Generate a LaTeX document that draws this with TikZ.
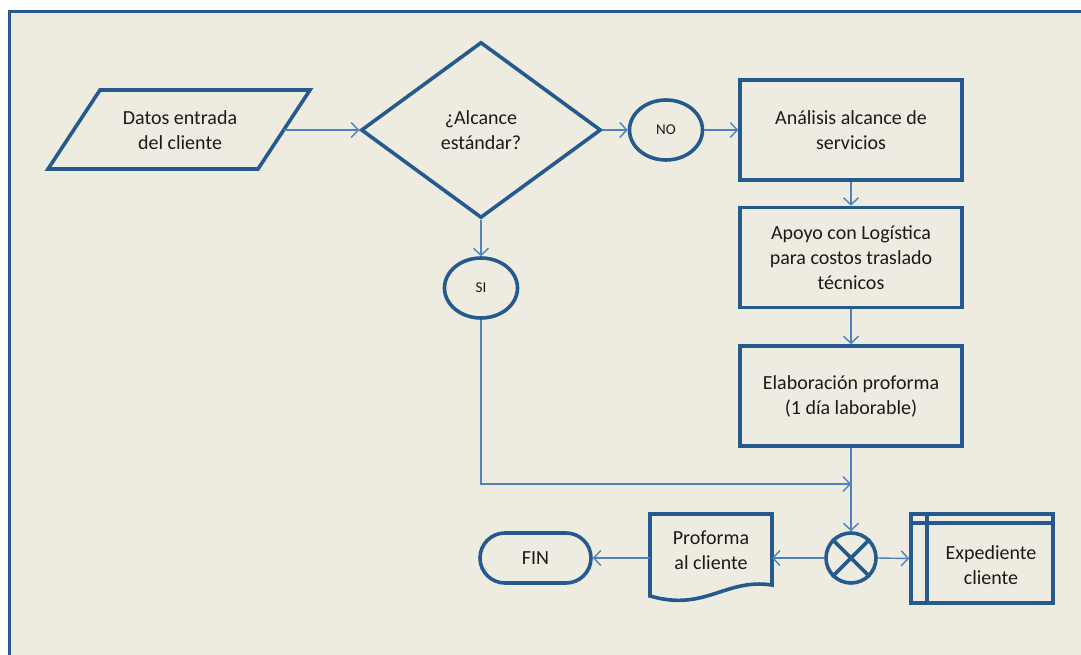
\documentclass[tikz,border=0pt]{standalone}
\usepackage{fontspec}
\setmainfont{Carlito}
\usetikzlibrary{shapes.geometric,arrows.meta,calc}
\definecolor{shapeblue}{HTML}{255A8F}
\definecolor{linkblue}{HTML}{4F81BD}
\definecolor{bgtan}{HTML}{EEECE1}
\definecolor{txt}{HTML}{1A1A1A}
\tikzset{
  shp/.style={draw=shapeblue, line width=3.6pt, fill=bgtan, text=txt, inner sep=0pt, align=center,
    font=\fontsize{20}{25}\selectfont},
  boxx/.style={shp, rectangle, minimum width=222pt, minimum height=100pt},
  ovalx/.style={shp, ellipse, minimum width=73pt, minimum height=60pt, font=\fontsize{15}{18}\selectfont},
  lbl/.style={text=txt, align=center, inner sep=0pt, font=\fontsize{20}{25}\selectfont},
  link/.style={draw=linkblue, line width=1.4pt, -{Straight Barb[length=7pt,width=15pt,line width=1.4pt]}},
  plain/.style={draw=linkblue, line width=1.4pt}
}
\begin{document}
\begin{tikzpicture}[x=1pt,y=-1pt]
\useasboundingbox (0,0) rectangle (1081,655);
\clip (0,0) rectangle (1081,655);
\fill[white] (0,0) rectangle (1081,655);
% frame
\draw[draw=shapeblue, line width=3pt, fill=bgtan] (9,12) rectangle (1100,680);

% input parallelogram
\draw[shapeblue, line width=3.6pt, line join=miter] (100,90) -- (310,90) -- (258,169) -- (48,169) -- cycle;
\node[lbl] (datos) at (180,130) {Datos entrada\\del cliente};
\coordinate (datosE) at (284,130);

% decision
\node[shp, diamond, aspect=1.36, minimum width=240pt, minimum height=176pt] (dec) at (481,130) {¿Alcance\\estándar?};

% NO / SI
\node[ovalx] (no) at (666,130) {NO};
\node[ovalx] (si) at (481,288) {SI};

% process boxes
\node[boxx] (b1) at (851,130) {Análisis alcance de\\servicios};
\node[boxx] (b2) at (851,257.5) {Apoyo con Logística\\para costos traslado\\técnicos};
\node[boxx] (b3) at (851,396) {Elaboración proforma\\(1 día laborable)};

% summing junction
\node[draw=shapeblue, line width=3.6pt, circle, minimum size=50pt, inner sep=0pt] (xor) at (851,558) {};
\draw[shapeblue, line width=3.6pt] (xor.45) -- (xor.225) (xor.135) -- (xor.315);

% document shape
\draw[shapeblue, line width=3.6pt, line join=miter] (650,514) -- (772,514) -- (772,585)
  .. controls (725,578) and (705,612) .. (650,596) -- cycle;
\node[lbl] (prof) at (711,550) {Proforma\\al cliente};
\coordinate (profE) at (772,558);
\coordinate (profW) at (650,558);

% internal storage
\node[shp, rectangle, minimum width=142pt, minimum height=89pt] (exp) at (982,558.5) {};
\draw[shapeblue, line width=3.6pt] ($(exp.north west)+(0,11)$) -- ($(exp.north east)+(0,11)$);
\draw[shapeblue, line width=3.6pt] ($(exp.north west)+(18,0)$) -- ($(exp.south west)+(18,0)$);
\node[lbl] (explbl) at (991,565) {Expediente\\cliente};

% terminator
\node[shp, rectangle, rounded corners=25pt, minimum width=111pt, minimum height=50pt] (fin) at (535.5,558) {FIN};

% connectors
\draw[link] (datosE) -- (dec.west);
\draw[link] (dec.east) -- (no.west);
\draw[link] (no.east) -- (b1.west);
\draw[link] (b1.south) -- (b2.north);
\draw[link] (b2.south) -- (b3.north);
\draw[link] (dec.south) -- (si.north);
\coordinate (join) at (851,484);
\draw[link] (si.south) |- (join);
\draw[link] (b3.south) -- (xor.north);
\draw[link] (xor.west) -- (profE);
\draw[link] (xor.east) -- (exp.west);
\draw[link] (profW) -- (fin.east);
\end{tikzpicture}
\end{document}
